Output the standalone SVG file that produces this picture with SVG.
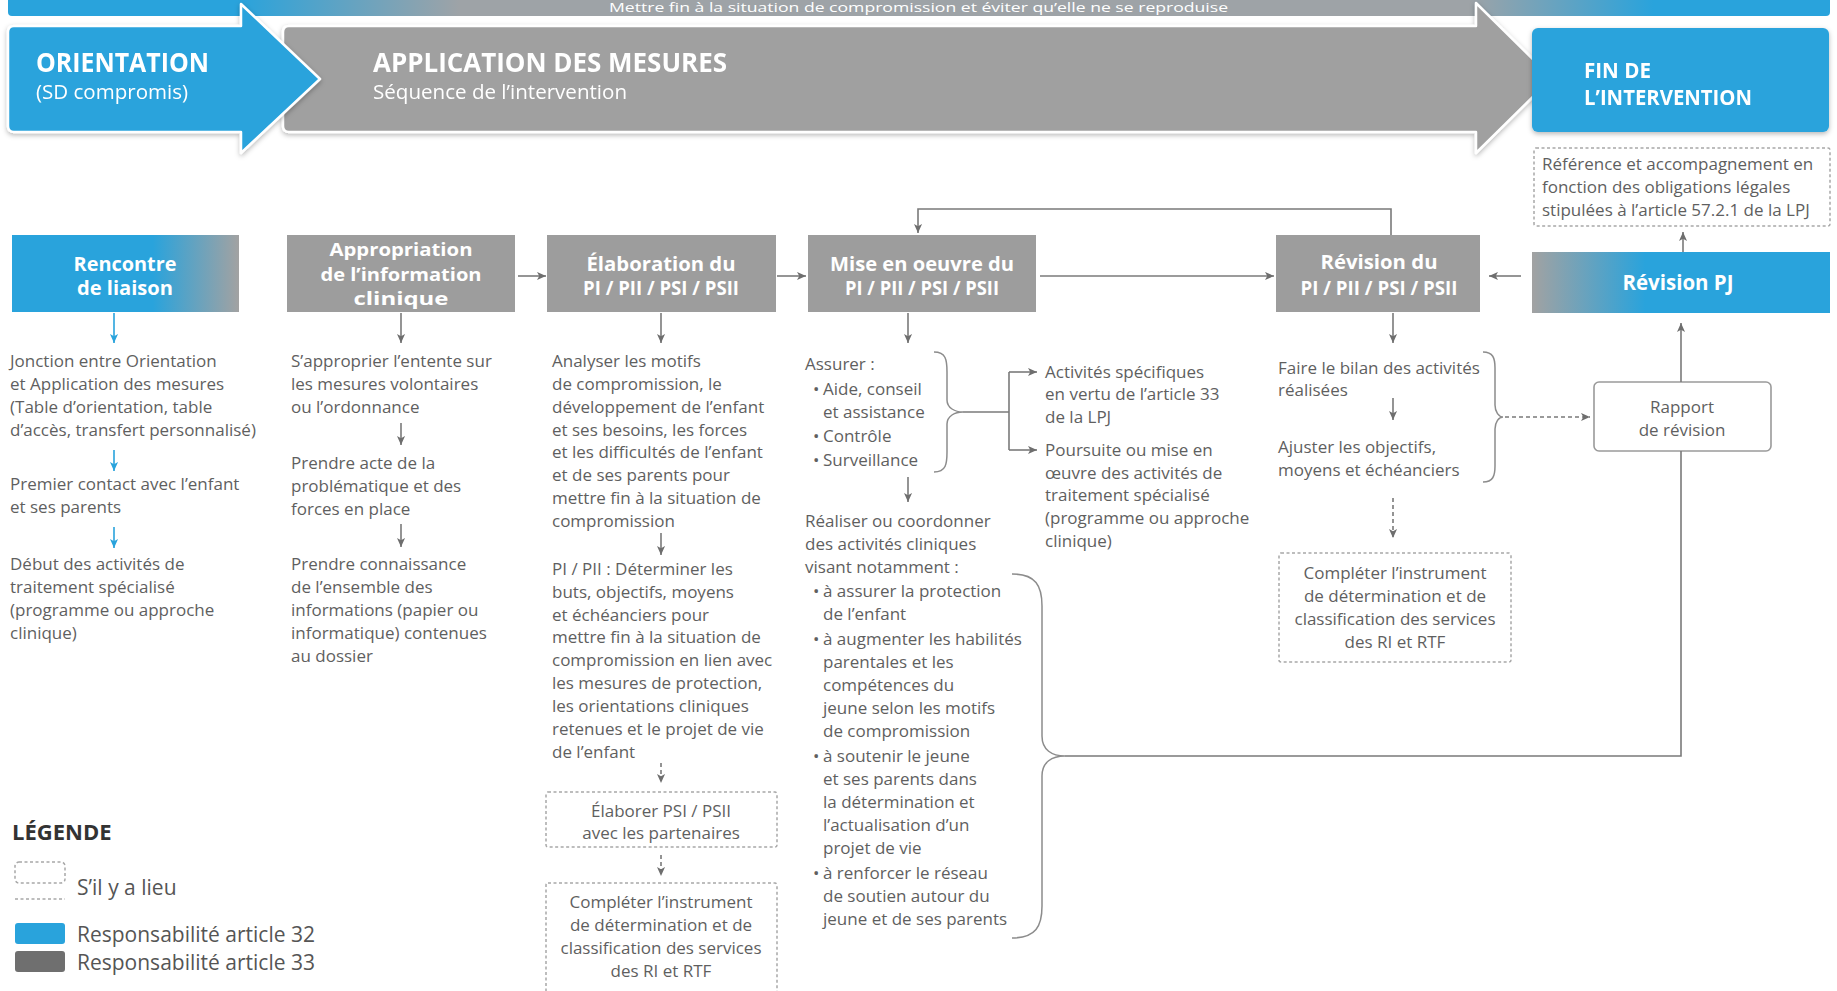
<svg xmlns="http://www.w3.org/2000/svg" width="1837" height="991" viewBox="0 0 1837 991">
  <style>
    .t { font-family: "Open Sans", "Noto Sans", sans-serif; font-size: 17px; fill: #5f5f5f; }
    .tc { font-family: "Open Sans", "Noto Sans", sans-serif; font-size: 17px; fill: #5f5f5f; text-anchor: middle; }
    .h { font-family: "Open Sans", "Noto Sans", sans-serif; font-weight: 700; font-size: 20px; fill: #ffffff; text-anchor: middle; }
    .big { font-family: "Open Sans", "Noto Sans", sans-serif; font-weight: 700; font-size: 26px; fill: #ffffff; }
    .sub { font-family: "Open Sans", "Noto Sans", sans-serif; font-size: 20px; fill: #ffffff; }
    .lg { font-family: "Open Sans", "Noto Sans", sans-serif; font-size: 21px; fill: #555555; }
    .box-gray { fill: #9d9d9d; }
    .dash { fill: none; stroke: #a8a8a8; stroke-width: 1.5; stroke-dasharray: 3 2.5; }
    .ln { fill: none; stroke: #7a7a7a; stroke-width: 1.6; }
    .lnd { fill: none; stroke: #7a7a7a; stroke-width: 1.6; stroke-dasharray: 4 3; }
    .lnb { fill: none; stroke: #29a3dc; stroke-width: 1.6; }
    .brace { fill: none; stroke: #8c8c8c; stroke-width: 1.5; }
  </style>
  <defs>
    <linearGradient id="bannerGrad" gradientUnits="userSpaceOnUse" x1="0" y1="0" x2="1837" y2="0">
      <stop offset="0" stop-color="#29a3dc"/>
      <stop offset="0.13" stop-color="#29a3dc"/>
      <stop offset="0.25" stop-color="#9ea3a7"/>
      <stop offset="0.8" stop-color="#9ea3a7"/>
      <stop offset="0.9" stop-color="#29a3dc"/>
      <stop offset="1" stop-color="#29a3dc"/>
    </linearGradient>
    <linearGradient id="blueToGray" x1="0" y1="0" x2="1" y2="0">
      <stop offset="0" stop-color="#29a3dc"/>
      <stop offset="0.62" stop-color="#29a3dc"/>
      <stop offset="1" stop-color="#a2a2a2"/>
    </linearGradient>
    <linearGradient id="grayToBlue" x1="0" y1="0" x2="1" y2="0">
      <stop offset="0" stop-color="#a2a2a2"/>
      <stop offset="0.38" stop-color="#29a3dc"/>
      <stop offset="1" stop-color="#29a3dc"/>
    </linearGradient>
    <filter id="shadow" x="-5%" y="-20%" width="110%" height="150%">
      <feDropShadow dx="0" dy="2" stdDeviation="2.5" flood-color="#000" flood-opacity="0.28"/>
    </filter>
    <marker id="ah" viewBox="0 0 10 10" refX="10" refY="5" markerWidth="9" markerHeight="9" markerUnits="userSpaceOnUse" orient="auto">
      <path d="M0,0.5 L10,5 L0,9.5 L2.5,5 z" fill="#6e6e6e"/>
    </marker>
    <marker id="ahb" viewBox="0 0 10 10" refX="10" refY="5" markerWidth="9" markerHeight="9" markerUnits="userSpaceOnUse" orient="auto">
      <path d="M0,0.5 L10,5 L0,9.5 L2.5,5 z" fill="#29a3dc"/>
    </marker>
  </defs>

  <rect width="1837" height="991" fill="#ffffff"/>

  <!-- phase banner -->
  <g id="banner">
    <rect x="8" y="-6" width="1822" height="22" rx="4" fill="url(#bannerGrad)"/>
    <text x="609" y="12" textLength="619" lengthAdjust="spacingAndGlyphs" style="font-family:'Open Sans','Noto Sans',sans-serif;font-size:13.5px;fill:#ffffff">Mettre fin à la situation de compromission et éviter qu’elle ne se reproduise</text>
  </g>

  <g id="application" filter="url(#shadow)">
    <path d="M289,26 H1476 V3 L1552,78 L1476,153 V132 H289 Q283,132 283,126 V32 Q283,26 289,26 Z" fill="#a0a0a0" stroke="#ffffff" stroke-width="2.5" stroke-linejoin="round"/>
    <text class="big" x="373" y="72" textLength="354" lengthAdjust="spacingAndGlyphs">APPLICATION DES MESURES</text>
    <text class="sub" x="373" y="99" textLength="254" lengthAdjust="spacingAndGlyphs">Séquence de l’intervention</text>
  </g>

  <g id="orientation" filter="url(#shadow)">
    <path d="M14,26 H241 V4 L320,79 L241,153 V132 H14 Q8,132 8,126 V32 Q8,26 14,26 Z" fill="#29a3dc" stroke="#ffffff" stroke-width="2.5" stroke-linejoin="round"/>
    <text class="big" x="36" y="72" textLength="173" lengthAdjust="spacingAndGlyphs">ORIENTATION</text>
    <text class="sub" x="36" y="99" textLength="152" lengthAdjust="spacingAndGlyphs">(SD compromis)</text>
  </g>

  <g id="fin-intervention" filter="url(#shadow)">
    <rect x="1532" y="28" width="297" height="104" rx="6" fill="#29a3dc"/>
    <text class="big" x="1584" y="78" style="font-size:22px" textLength="67" lengthAdjust="spacingAndGlyphs">FIN DE</text>
    <text class="big" x="1584" y="105" style="font-size:22px" textLength="168" lengthAdjust="spacingAndGlyphs">L’INTERVENTION</text>
  </g>

  <!-- step headers -->
  <g id="rencontre">
    <rect x="12" y="235" width="227" height="77" fill="url(#blueToGray)"/>
    <text class="h" x="125" y="271" textLength="103" lengthAdjust="spacingAndGlyphs">Rencontre</text>
    <text class="h" x="125" y="295" textLength="96" lengthAdjust="spacingAndGlyphs">de liaison</text>
  </g>
  <g id="appropriation">
    <rect class="box-gray" x="287" y="235" width="228" height="77"/>
    <text class="h" x="401" y="256" style="font-size:18px" textLength="143" lengthAdjust="spacingAndGlyphs">Appropriation</text>
    <text class="h" x="401" y="280.5" style="font-size:18px" textLength="161" lengthAdjust="spacingAndGlyphs">de l’information</text>
    <text class="h" x="401" y="305" style="font-size:18px" textLength="95" lengthAdjust="spacingAndGlyphs">clinique</text>
  </g>
  <g id="elaboration">
    <rect class="box-gray" x="547" y="235" width="229" height="77"/>
    <text class="h" x="661" y="271" textLength="149" lengthAdjust="spacingAndGlyphs">Élaboration du</text>
    <text class="h" x="661" y="295" textLength="156" lengthAdjust="spacingAndGlyphs">PI / PII / PSI / PSII</text>
  </g>
  <g id="mise-en-oeuvre">
    <rect class="box-gray" x="808" y="235" width="228" height="77"/>
    <text class="h" x="922" y="271" textLength="184" lengthAdjust="spacingAndGlyphs">Mise en oeuvre du</text>
    <text class="h" x="922" y="295" textLength="154" lengthAdjust="spacingAndGlyphs">PI / PII / PSI / PSII</text>
  </g>
  <g id="revision">
    <rect class="box-gray" x="1276" y="235" width="204" height="77"/>
    <text class="h" x="1379" y="269" textLength="117" lengthAdjust="spacingAndGlyphs">Révision du</text>
    <text class="h" x="1379" y="295" textLength="157" lengthAdjust="spacingAndGlyphs">PI / PII / PSI / PSII</text>
  </g>
  <g id="revision-pj">
    <rect x="1532" y="252" width="298" height="61" fill="url(#grayToBlue)"/>
    <text class="h" x="1678" y="290" style="font-size:22px" textLength="111" lengthAdjust="spacingAndGlyphs">Révision PJ</text>
  </g>

  <!-- column 1 -->
  <g id="rencontre-steps">
    <text class="t" x="10" y="367">Jonction entre Orientation</text>
    <text class="t" x="10" y="390">et Application des mesures</text>
    <text class="t" x="10" y="413">(Table d’orientation, table</text>
    <text class="t" x="10" y="436">d’accès, transfert personnalisé)</text>
    <text class="t" x="10" y="490">Premier contact avec l’enfant</text>
    <text class="t" x="10" y="513">et ses parents</text>
    <text class="t" x="10" y="570">Début des activités de</text>
    <text class="t" x="10" y="593">traitement spécialisé</text>
    <text class="t" x="10" y="616">(programme ou approche</text>
    <text class="t" x="10" y="639">clinique)</text>
  </g>

  <!-- column 2 -->
  <g id="appropriation-steps">
    <text class="t" x="291" y="367">S’approprier l’entente sur</text>
    <text class="t" x="291" y="390">les mesures volontaires</text>
    <text class="t" x="291" y="413">ou l’ordonnance</text>
    <text class="t" x="291" y="469">Prendre acte de la</text>
    <text class="t" x="291" y="492">problématique et des</text>
    <text class="t" x="291" y="515">forces en place</text>
    <text class="t" x="291" y="570">Prendre connaissance</text>
    <text class="t" x="291" y="593">de l’ensemble des</text>
    <text class="t" x="291" y="616">informations (papier ou</text>
    <text class="t" x="291" y="639">informatique) contenues</text>
    <text class="t" x="291" y="662">au dossier</text>
  </g>

  <!-- column 3 -->
  <g id="elaboration-steps">
    <text class="t" x="552" y="367">Analyser les motifs</text>
    <text class="t" x="552" y="390">de compromission, le</text>
    <text class="t" x="552" y="413">développement de l’enfant</text>
    <text class="t" x="552" y="436">et ses besoins, les forces</text>
    <text class="t" x="552" y="458">et les difficultés de l’enfant</text>
    <text class="t" x="552" y="481">et de ses parents pour</text>
    <text class="t" x="552" y="504">mettre fin à la situation de</text>
    <text class="t" x="552" y="527">compromission</text>
    <text class="t" x="552" y="575">PI / PII : Déterminer les</text>
    <text class="t" x="552" y="598">buts, objectifs, moyens</text>
    <text class="t" x="552" y="621">et échéanciers pour</text>
    <text class="t" x="552" y="643">mettre fin à la situation de</text>
    <text class="t" x="552" y="666">compromission en lien avec</text>
    <text class="t" x="552" y="689">les mesures de protection,</text>
    <text class="t" x="552" y="712">les orientations cliniques</text>
    <text class="t" x="552" y="735">retenues et le projet de vie</text>
    <text class="t" x="552" y="758">de l’enfant</text>
  </g>
  <g id="elaborer-psi">
    <rect class="dash" x="546" y="792" width="231" height="55" rx="2"/>
    <text class="tc" x="661" y="817">Élaborer PSI / PSII</text>
    <text class="tc" x="661" y="839">avec les partenaires</text>
  </g>
  <g id="completer-instrument-1">
    <rect class="dash" x="546" y="883" width="231" height="112" rx="2"/>
    <text class="tc" x="661" y="908">Compléter l’instrument</text>
    <text class="tc" x="661" y="931">de détermination et de</text>
    <text class="tc" x="661" y="954">classification des services</text>
    <text class="tc" x="661" y="977">des RI et RTF</text>
  </g>

  <!-- column 4 -->
  <g id="mise-steps">
    <text class="t" x="805" y="370">Assurer :</text>
    <text class="t" x="813" y="395">•</text><text class="t" x="823" y="395">Aide, conseil</text>
    <text class="t" x="823" y="418">et assistance</text>
    <text class="t" x="813" y="442">•</text><text class="t" x="823" y="442">Contrôle</text>
    <text class="t" x="813" y="466">•</text><text class="t" x="823" y="466">Surveillance</text>
    <text class="t" x="805" y="527">Réaliser ou coordonner</text>
    <text class="t" x="805" y="550">des activités cliniques</text>
    <text class="t" x="805" y="573">visant notamment :</text>
    <text class="t" x="813" y="597">•</text><text class="t" x="823" y="597">à assurer la protection</text>
    <text class="t" x="823" y="620">de l’enfant</text>
    <text class="t" x="813" y="645">•</text><text class="t" x="823" y="645">à augmenter les habilités</text>
    <text class="t" x="823" y="668">parentales et les</text>
    <text class="t" x="823" y="691">compétences du</text>
    <text class="t" x="823" y="714">jeune selon les motifs</text>
    <text class="t" x="823" y="737">de compromission</text>
    <text class="t" x="813" y="762">•</text><text class="t" x="823" y="762">à soutenir le jeune</text>
    <text class="t" x="823" y="785">et ses parents dans</text>
    <text class="t" x="823" y="808">la détermination et</text>
    <text class="t" x="823" y="831">l’actualisation d’un</text>
    <text class="t" x="823" y="854">projet de vie</text>
    <text class="t" x="813" y="879">•</text><text class="t" x="823" y="879">à renforcer le réseau</text>
    <text class="t" x="823" y="902">de soutien autour du</text>
    <text class="t" x="823" y="925">jeune et de ses parents</text>
  </g>
  <g id="activites">
    <text class="t" x="1045" y="378">Activités spécifiques</text>
    <text class="t" x="1045" y="400">en vertu de l’article 33</text>
    <text class="t" x="1045" y="423">de la LPJ</text>
    <text class="t" x="1045" y="456">Poursuite ou mise en</text>
    <text class="t" x="1045" y="479">œuvre des activités de</text>
    <text class="t" x="1045" y="501">traitement spécialisé</text>
    <text class="t" x="1045" y="524">(programme ou approche</text>
    <text class="t" x="1045" y="547">clinique)</text>
  </g>

  <!-- column 5 -->
  <g id="revision-steps">
    <text class="t" x="1278" y="374">Faire le bilan des activités</text>
    <text class="t" x="1278" y="396">réalisées</text>
    <text class="t" x="1278" y="453">Ajuster les objectifs,</text>
    <text class="t" x="1278" y="476">moyens et échéanciers</text>
  </g>
  <g id="completer-instrument-2">
    <rect class="dash" x="1279" y="553" width="232" height="109" rx="2"/>
    <text class="tc" x="1395" y="579">Compléter l’instrument</text>
    <text class="tc" x="1395" y="602">de détermination et de</text>
    <text class="tc" x="1395" y="625">classification des services</text>
    <text class="tc" x="1395" y="648">des RI et RTF</text>
  </g>

  <!-- right column -->
  <g id="reference">
    <rect class="dash" x="1534" y="148" width="296" height="78" rx="2"/>
    <text class="t" x="1542" y="170">Référence et accompagnement en</text>
    <text class="t" x="1542" y="193">fonction des obligations légales</text>
    <text class="t" x="1542" y="216">stipulées à l’article 57.2.1 de la LPJ</text>
  </g>
  <g id="rapport">
    <rect x="1594" y="382" width="177" height="69" rx="5" fill="#ffffff" stroke="#9a9a9a" stroke-width="1.6"/>
    <text class="tc" x="1682" y="413">Rapport</text>
    <text class="tc" x="1682" y="436">de révision</text>
  </g>

  <!-- legend -->
  <g id="legend">
    <text x="12" y="840" style="font-family:'Open Sans','Noto Sans',sans-serif;font-weight:700;font-size:22px;fill:#333333">LÉGENDE</text>
    <rect class="dash" x="15" y="862" width="50" height="21" rx="4"/>
    <line class="dash" x1="15" y1="899" x2="65" y2="899"/>
    <text class="lg" x="77" y="895">S’il y a lieu</text>
    <rect x="15" y="923" width="50" height="21" rx="3" fill="#29a3dc"/>
    <text class="lg" x="77" y="942">Responsabilité article 32</text>
    <rect x="15" y="951" width="50" height="21" rx="3" fill="#6f6f6f"/>
    <text class="lg" x="77" y="970">Responsabilité article 33</text>
  </g>

  <!-- connectors -->
  <g id="connectors">
    <!-- column 1 (blue) -->
    <path class="lnb" d="M114,313 V343" marker-end="url(#ahb)"/>
    <path class="lnb" d="M114,450 V471" marker-end="url(#ahb)"/>
    <path class="lnb" d="M114,527 V548" marker-end="url(#ahb)"/>
    <!-- column 2 -->
    <path class="ln" d="M401,313 V343" marker-end="url(#ah)"/>
    <path class="ln" d="M401,423 V445" marker-end="url(#ah)"/>
    <path class="ln" d="M401,524 V547" marker-end="url(#ah)"/>
    <!-- column 3 -->
    <path class="ln" d="M661,313 V343" marker-end="url(#ah)"/>
    <path class="ln" d="M661,533 V555" marker-end="url(#ah)"/>
    <path class="lnd" d="M661,763 V783" marker-end="url(#ah)"/>
    <path class="lnd" d="M661,855 V876" marker-end="url(#ah)"/>
    <!-- column 4 -->
    <path class="ln" d="M908,313 V343" marker-end="url(#ah)"/>
    <path class="ln" d="M908,477 V502" marker-end="url(#ah)"/>
    <!-- column 5 -->
    <path class="ln" d="M1393,313 V343" marker-end="url(#ah)"/>
    <path class="ln" d="M1393,398 V420" marker-end="url(#ah)"/>
    <path class="lnd" d="M1393,498 V538" marker-end="url(#ah)"/>
    <!-- header row -->
    <path class="ln" d="M518,276 H546" marker-end="url(#ah)"/>
    <path class="ln" d="M777,276 H806" marker-end="url(#ah)"/>
    <path class="ln" d="M1040,276 H1274" marker-end="url(#ah)"/>
    <path class="ln" d="M1521,276 H1489" marker-end="url(#ah)"/>
    <!-- feedback from revision to implementation -->
    <path class="ln" d="M1391,235 V209 H918 V233" marker-end="url(#ah)"/>
    <!-- brace: assurer -->
    <path class="brace" d="M934,352 C946,352 947,360 947,372 L947,400 C947,408 955,412 963,412 C955,412 947,416 947,424 L947,452 C947,464 946,472 934,472"/>
    <path class="ln" d="M963,412 H1009"/>
    <path class="ln" d="M1009,372 V450"/>
    <path class="ln" d="M1009,372 H1037" marker-end="url(#ah)"/>
    <path class="ln" d="M1009,450 H1037" marker-end="url(#ah)"/>
    <!-- brace: clinical activities -->
    <path class="brace" d="M1012,574 C1036,574 1042,586 1042,606 L1042,736 C1042,750 1052,756 1065,756 C1052,756 1042,762 1042,776 L1042,906 C1042,926 1036,938 1012,938"/>
    <path class="ln" d="M1065,756 H1681 V451"/>
    <!-- brace: revision -->
    <path class="brace" d="M1483,352 C1493,352 1495,358 1495,368 L1495,405 C1495,412 1499,417 1503,417 C1499,417 1495,422 1495,429 L1495,466 C1495,476 1493,482 1483,482"/>
    <path class="lnd" d="M1505,417 H1590" marker-end="url(#ah)"/>
    <!-- right column -->
    <path class="ln" d="M1681,382 V323" marker-end="url(#ah)"/>
    <path class="ln" d="M1683,252 V232" marker-end="url(#ah)"/>
  </g>
</svg>
